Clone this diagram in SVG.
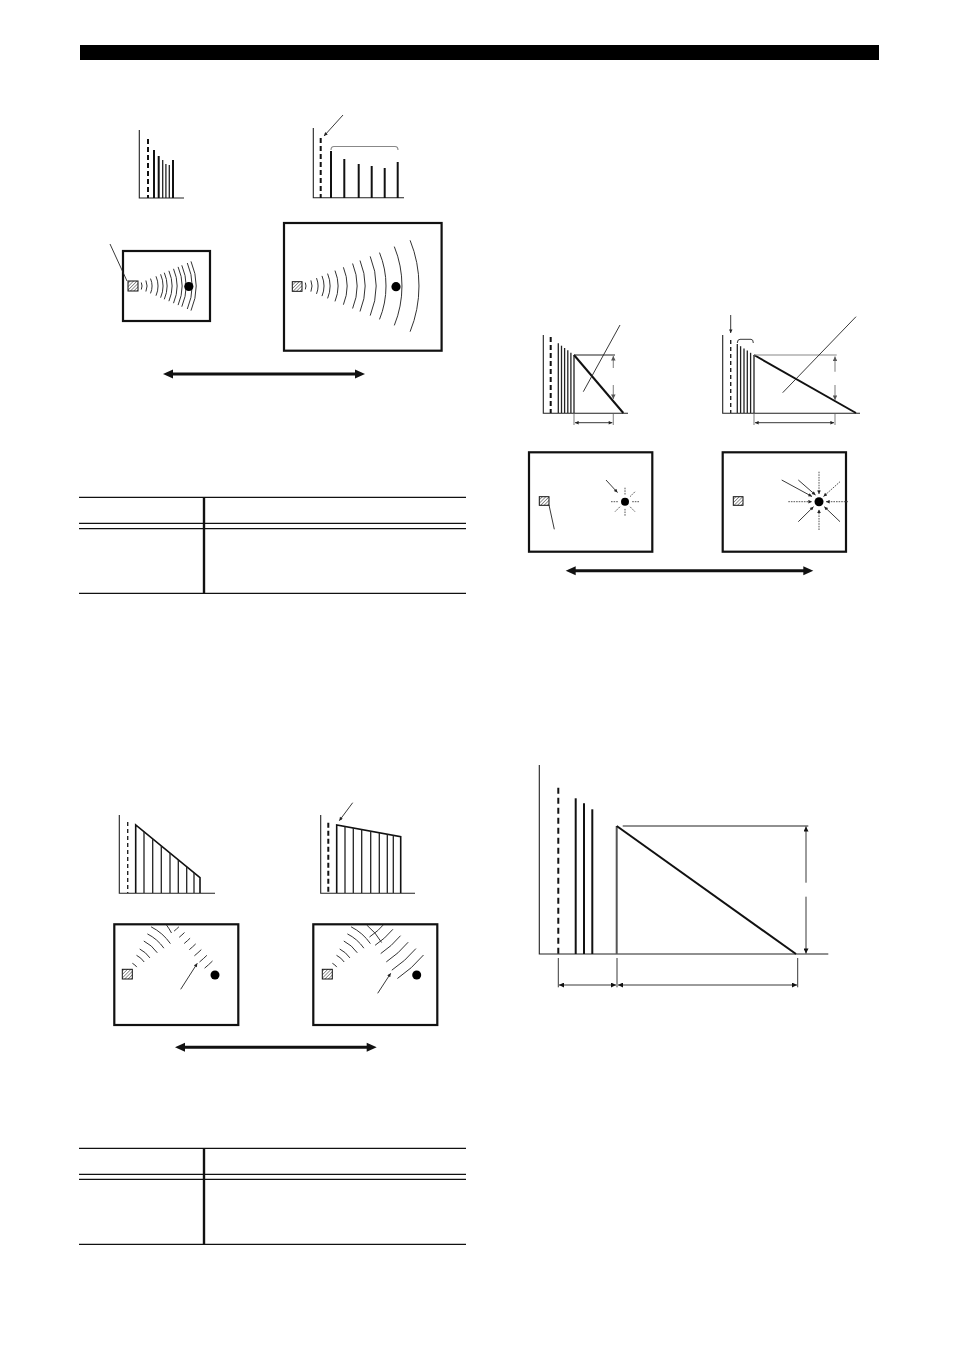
<svg xmlns="http://www.w3.org/2000/svg" width="954" height="1348" viewBox="0 0 954 1348">
<defs>
<style>
.ax{fill:none;stroke:#222;stroke-width:1.1}
.bar{stroke:#111;stroke-width:2}
.tbar{stroke:#222;stroke-width:1.3}
.dash{stroke:#111;stroke-width:2;stroke-dasharray:5 3}
.dashT{stroke:#222;stroke-width:1.4;stroke-dasharray:4 3}
.box{fill:none;stroke:#111;stroke-width:2.2}
.wave{fill:none;stroke:#333;stroke-width:1}
.thin{fill:none;stroke:#222;stroke-width:0.9}
.gray{fill:none;stroke:#888;stroke-width:1.1}
.ray{stroke:#555;stroke-width:1;stroke-dasharray:1.6 1}
.spk{fill:url(#hatch);stroke:#111;stroke-width:1}
.tbl{stroke:#111;stroke-width:1.3}
.tblv{stroke:#111;stroke-width:2.4}
.big{stroke:#111;stroke-width:3}
.head{fill:#111}
</style>
<pattern id="hatch" patternUnits="userSpaceOnUse" width="2.4" height="2.4" patternTransform="rotate(45)">
<rect width="2.4" height="2.4" fill="#fff"/>
<line x1="0" y1="0" x2="0" y2="2.4" stroke="#333" stroke-width="1"/>
</pattern>
<marker id="ah" viewBox="0 0 10 10" refX="10" refY="5" markerWidth="7" markerHeight="5" orient="auto-start-reverse" markerUnits="userSpaceOnUse">
<path d="M0,0 L10,5 L0,10 z" fill="#111"/>
</marker>
<marker id="as" viewBox="0 0 10 10" refX="10" refY="5" markerWidth="5" markerHeight="3.6" orient="auto-start-reverse" markerUnits="userSpaceOnUse">
<path d="M0,0 L10,5 L0,10 z" fill="#222"/>
</marker>
<marker id="ag" viewBox="0 0 10 10" refX="10" refY="5" markerWidth="6" markerHeight="4.5" orient="auto-start-reverse" markerUnits="userSpaceOnUse">
<path d="M0,0 L10,5 L0,10 z" fill="#555"/>
</marker>
<clipPath id="cBL"><rect x="115" y="925" width="122.5" height="99"/></clipPath>
<clipPath id="cBR"><rect x="314" y="925" width="122.5" height="99"/></clipPath>
</defs>

<rect id="topbar" x="80" y="45" width="799" height="15" fill="#000"/>

<!-- Top-left: chart 1 -->
<g id="chartA1">
<path class="ax" d="M139.3,130 V198 H184"/>
<line class="dash" x1="148" y1="139" x2="148" y2="198"/>
<line class="bar" x1="154" y1="150" x2="154" y2="198"/>
<line class="bar" x1="158.7" y1="156" x2="158.7" y2="198"/>
<line class="tbar" x1="162.7" y1="160" x2="162.7" y2="198"/>
<line class="tbar" x1="165.9" y1="164" x2="165.9" y2="198"/>
<line class="tbar" x1="169.3" y1="165" x2="169.3" y2="198"/>
<line class="bar" x1="173" y1="160" x2="173" y2="198"/>
</g>
<g id="chartA2">
<path class="ax" d="M313.3,128 V197.7 H404"/>
<line class="dash" x1="320.7" y1="138" x2="320.7" y2="198"/>
<path class="gray" d="M331,150 Q331,146.5 334,146.5 H395 Q398,146.5 398,150"/>
<line class="bar" x1="331" y1="151" x2="331" y2="198"/>
<line class="bar" x1="344.3" y1="159" x2="344.3" y2="198"/>
<line class="bar" x1="358.7" y1="164" x2="358.7" y2="198"/>
<line class="bar" x1="371.7" y1="166" x2="371.7" y2="198"/>
<line class="bar" x1="384.7" y1="168" x2="384.7" y2="198"/>
<line class="bar" x1="397.7" y1="162" x2="397.7" y2="198"/>
<line class="thin" x1="343" y1="115" x2="324" y2="136" marker-end="url(#as)"/>
</g>
<g id="roomA1">
<rect class="box" x="123" y="251" width="87" height="70"/>
<line class="thin" x1="110" y1="244" x2="127" y2="281"/>
<rect class="spk" x="128" y="281" width="10" height="10"/>
<g class="wave">
<path d="M141.3,282.5 A9,9 0 0 1 141.3,289.5"/>
<path d="M145.9,280.5 A14,14 0 0 1 145.9,291.5"/>
<path d="M150.5,278.6 A19,19 0 0 1 150.5,293.4"/>
<path d="M156,276.3 A25,25 0 0 1 156,295.7"/>
<path d="M160.6,274.3 A30,30 0 0 1 160.6,297.7"/>
<path d="M164.3,272.7 A34,34 0 0 1 164.3,299.3"/>
<path d="M168.9,270.8 A39,39 0 0 1 168.9,301.2"/>
<path d="M173.5,268.8 A44,44 0 0 1 173.5,303.2"/>
<path d="M178.1,266.9 A49,49 0 0 1 178.1,305.1"/>
<path d="M181.8,265.3 A53,53 0 0 1 181.8,306.7"/>
<path d="M187.3,263 A59,59 0 0 1 187.3,309"/>
<path d="M191,261.4 A63,63 0 0 1 191,310.6"/>
</g>
<circle cx="188.8" cy="286.5" r="4.6" fill="#000"/>
</g>
<g id="roomA2">
<rect class="box" x="284" y="223" width="157.6" height="127.7"/>
<rect class="spk" x="292.3" y="281.7" width="9.7" height="9.6"/>
<g class="wave">
<path d="M305.3,282.6 A9,9 0 0 1 305.3,289.4"/>
<path d="M310.9,280.4 A15,15 0 0 1 310.9,291.6"/>
<path d="M316.5,278.1 A21,21 0 0 1 316.5,293.9"/>
<path d="M322,275.9 A27,27 0 0 1 322,296.1"/>
<path d="M327.6,273.6 A33,33 0 0 1 327.6,298.4"/>
<path d="M335,270.6 A41,41 0 0 1 335,301.4"/>
<path d="M343.4,267.3 A50,50 0 0 1 343.4,304.7"/>
<path d="M352.6,263.5 A60,60 0 0 1 352.6,308.5"/>
<path d="M360,260.5 A68,68 0 0 1 360,311.5"/>
<path d="M370.2,256.4 A79,79 0 0 1 370.2,315.6"/>
<path d="M379.5,252.6 A89,89 0 0 1 379.5,319.4"/>
<path d="M394.3,246.6 A105,105 0 0 1 394.3,325.4"/>
<path d="M410.1,240.3 A122,122 0 0 1 410.1,331.7"/>
</g>
<circle cx="396" cy="286.7" r="4.6" fill="#000"/>
</g>
<g id="arrowA">
<line class="big" x1="170" y1="374" x2="358" y2="374"/>
<path class="head" d="M163,374 L173,369.5 L173,378.5 z"/>
<path class="head" d="M365,374 L355,369.5 L355,378.5 z"/>
</g>

<!-- Table 1 -->
<g id="table1">
<line class="tbl" x1="79" y1="497.3" x2="466" y2="497.3"/>
<line class="tbl" x1="79" y1="523.3" x2="466" y2="523.3"/>
<line class="tbl" x1="79" y1="528.7" x2="466" y2="528.7"/>
<line class="tbl" x1="79" y1="593.3" x2="466" y2="593.3"/>
<line class="tblv" x1="204" y1="497.3" x2="204" y2="593.3"/>
</g>

<!-- Top-right: charts -->
<g id="chartB1">
<path class="ax" d="M543.3,335 V413.3 H628"/>
<line class="dash" x1="550.7" y1="337" x2="550.7" y2="413"/>
<line class="tbar" x1="558.3" y1="343.3" x2="558.3" y2="413"/>
<line class="tbar" x1="561.5" y1="345.7" x2="561.5" y2="413"/>
<line class="tbar" x1="564.6" y1="348" x2="564.6" y2="413"/>
<line class="tbar" x1="567.8" y1="350.3" x2="567.8" y2="413"/>
<line class="tbar" x1="570.9" y1="352.7" x2="570.9" y2="413"/>
<line class="tbar" x1="574" y1="355" x2="574" y2="413"/>
<line stroke="#111" stroke-width="2" x1="574" y1="355" x2="623.3" y2="413"/>
<line class="ax" x1="574" y1="355" x2="615" y2="355"/>
<line class="gray" x1="613.3" y1="368" x2="613.3" y2="356" marker-end="url(#ag)"/>
<line class="gray" x1="613.3" y1="385" x2="613.3" y2="399" marker-end="url(#ag)"/>
<line class="gray" x1="574" y1="414" x2="574" y2="425"/>
<line class="gray" x1="613.3" y1="414" x2="613.3" y2="425"/>
<line class="thin" x1="575" y1="422.7" x2="612.3" y2="422.7" marker-start="url(#as)" marker-end="url(#as)"/>
<line class="thin" x1="620" y1="325" x2="583.3" y2="391.7"/>
</g>
<g id="chartB2">
<path class="ax" d="M722.7,335 V413.3 H860"/>
<line class="dashT" x1="730.7" y1="340" x2="730.7" y2="413"/>
<line class="thin" x1="730.7" y1="315" x2="730.7" y2="333" marker-end="url(#as)"/>
<path class="thin" d="M737.3,343 Q737.3,339.3 740,339.3 H751 Q753.3,339.3 753.3,343"/>
<line class="tbar" x1="737.3" y1="344" x2="737.3" y2="413"/>
<line class="tbar" x1="740.6" y1="346.2" x2="740.6" y2="413"/>
<line class="tbar" x1="744" y1="348.4" x2="744" y2="413"/>
<line class="tbar" x1="747.3" y1="350.6" x2="747.3" y2="413"/>
<line class="tbar" x1="750.6" y1="352.8" x2="750.6" y2="413"/>
<line class="tbar" x1="754" y1="355" x2="754" y2="413"/>
<line stroke="#111" stroke-width="2" x1="754" y1="355" x2="856" y2="413"/>
<line class="gray" x1="754" y1="355" x2="836.7" y2="355"/>
<line class="gray" x1="835" y1="371.7" x2="835" y2="356.5" marker-end="url(#ag)"/>
<line class="gray" x1="835" y1="385" x2="835" y2="400" marker-end="url(#ag)"/>
<line class="gray" x1="754" y1="414" x2="754" y2="425"/>
<line class="gray" x1="835" y1="414" x2="835" y2="425"/>
<line class="thin" x1="755" y1="422.7" x2="834" y2="422.7" marker-start="url(#as)" marker-end="url(#as)"/>
<line class="thin" x1="856" y1="316.7" x2="782.7" y2="392.7"/>
</g>
<g id="roomB1">
<rect class="box" x="529" y="452.3" width="123.3" height="99.4"/>
<rect class="spk" x="539.3" y="496.7" width="9.7" height="8.6"/>
<line class="thin" x1="549" y1="505" x2="554.3" y2="529.3"/>
<circle cx="625" cy="501.7" r="4" fill="#000"/>
<line class="thin" x1="606" y1="480" x2="617.5" y2="492.5" marker-end="url(#as)"/>
<g class="ray">
<line x1="625" y1="487.7" x2="625" y2="494.7"/>
<line x1="634.9" y1="491.8" x2="630" y2="496.7"/>
<line x1="639" y1="501.7" x2="632" y2="501.7"/>
<line x1="634.9" y1="511.6" x2="630" y2="506.7"/>
<line x1="625" y1="515.7" x2="625" y2="508.7"/>
<line x1="615.1" y1="511.6" x2="620" y2="506.7"/>
<line x1="611" y1="501.7" x2="618" y2="501.7"/>
</g>
</g>
<g id="roomB2">
<rect class="box" x="722.7" y="452.3" width="123.3" height="99.4"/>
<rect class="spk" x="733.3" y="496.7" width="9.7" height="8.6"/>
<circle cx="819" cy="501.7" r="4.5" fill="#000"/>
<g>
<line class="thin" x1="781.7" y1="480" x2="812" y2="496.5" marker-end="url(#as)"/>
<line class="thin" x1="798.3" y1="480" x2="815.5" y2="495" marker-end="url(#as)"/>
<line class="thin" x1="798.3" y1="521.7" x2="813.5" y2="506.7" marker-end="url(#as)"/>
<line class="thin" x1="840" y1="521.7" x2="824.3" y2="506.7" marker-end="url(#as)"/>
<line class="ray" x1="840" y1="481.7" x2="823.5" y2="496.5" marker-end="url(#as)"/>
<line class="ray" x1="819" y1="471.7" x2="819" y2="494" marker-end="url(#as)"/>
<line class="ray" x1="788.3" y1="501.7" x2="812" y2="501.7" marker-end="url(#as)"/>
<line class="ray" x1="848" y1="501.7" x2="826" y2="501.7" marker-end="url(#as)"/>
<line class="ray" x1="819" y1="530" x2="819" y2="509.5" marker-end="url(#as)"/>
</g>
</g>
<g id="arrowB">
<line class="big" x1="572" y1="570.7" x2="807" y2="570.7"/>
<path class="head" d="M565.7,570.7 L575.7,566.2 L575.7,575.2 z"/>
<path class="head" d="M813.3,570.7 L803.3,566.2 L803.3,575.2 z"/>
</g>

<!-- Bottom-left charts -->
<g id="chartC1">
<path class="ax" d="M119.3,815 V893.3 H215"/>
<line class="dashT" x1="127.7" y1="822" x2="127.7" y2="893"/>
<path fill="none" stroke="#111" stroke-width="1.6" d="M135.7,893 V825 L200,877.7 V893"/>
<g class="tbar">
<line x1="144" y1="831.8" x2="144" y2="893"/>
<line x1="152.7" y1="838.9" x2="152.7" y2="893"/>
<line x1="161.3" y1="846" x2="161.3" y2="893"/>
<line x1="170" y1="853.1" x2="170" y2="893"/>
<line x1="178.3" y1="859.9" x2="178.3" y2="893"/>
<line x1="186.7" y1="866.8" x2="186.7" y2="893"/>
<line x1="194" y1="872.8" x2="194" y2="893"/>
</g>
</g>
<g id="chartC2">
<path class="ax" d="M320.7,815 V893.3 H415"/>
<line class="dash" x1="328.3" y1="822.7" x2="328.3" y2="893"/>
<path fill="none" stroke="#111" stroke-width="1.6" d="M336.7,893 V825 L400.7,836.7 V893"/>
<g class="tbar">
<line x1="345" y1="826.5" x2="345" y2="893"/>
<line x1="353.3" y1="828" x2="353.3" y2="893"/>
<line x1="361.7" y1="829.6" x2="361.7" y2="893"/>
<line x1="370.7" y1="831.2" x2="370.7" y2="893"/>
<line x1="379.3" y1="832.8" x2="379.3" y2="893"/>
<line x1="387.3" y1="834.2" x2="387.3" y2="893"/>
<line x1="393.3" y1="835.3" x2="393.3" y2="893"/>
</g>
<line class="thin" x1="352.7" y1="802.7" x2="339.3" y2="820.7" marker-end="url(#as)"/>
</g>
<g id="roomC1">
<rect class="box" x="114.3" y="924.3" width="124" height="100.7"/>
<rect class="spk" x="122.3" y="969.3" width="10" height="9.7"/>
<g class="wave" clip-path="url(#cBL)">
<path d="M132.4,963.3 A12,12 0 0 1 136.8,967.1"/>
<path d="M136.5,955.3 A21,21 0 0 1 144.2,962"/>
<path d="M139.7,949 A28,28 0 0 1 149.9,957.9"/>
<path d="M143.8,941 A37,37 0 0 1 157.3,952.8"/>
<path d="M147.4,933.9 A45,45 0 0 1 163.9,948.2"/>
<path d="M151.1,926.8 A53,53 0 0 1 170.4,943.6"/>
<path d="M166.5,925 A62,62 0 0 1 171.5,933"/>
<path d="M174.1,931.1 A74,74 0 0 0 178.9,926.8"/>
<path d="M179.2,937.3 A82,82 0 0 0 184.5,932.5"/>
<path d="M184.2,943.5 A90,90 0 0 0 190.1,938.2"/>
<path d="M189.3,949.7 A98,98 0 0 0 195.7,943.9"/>
<path d="M194.4,955.8 A106,106 0 0 0 201.3,949.6"/>
<path d="M199.5,962 A114,114 0 0 0 206.9,955.3"/>
<path d="M204.6,968.2 A122,122 0 0 0 212.5,961"/>
</g>
<circle cx="215" cy="975" r="4.5" fill="#000"/>
<line class="thin" x1="180.7" y1="989.3" x2="197.3" y2="963.3" marker-end="url(#as)"/>
</g>
<g id="roomC2">
<rect class="box" x="313.3" y="924.3" width="124" height="100.7"/>
<rect class="spk" x="322.3" y="969.3" width="10" height="9.7"/>
<g class="wave" clip-path="url(#cBR)">
<path d="M332.4,963.3 A12,12 0 0 1 336.8,967.1"/>
<path d="M336.5,955.3 A21,21 0 0 1 344.2,962"/>
<path d="M339.7,949 A28,28 0 0 1 349.9,957.9"/>
<path d="M343.8,941 A37,37 0 0 1 357.3,952.8"/>
<path d="M347.4,933.9 A45,45 0 0 1 363.9,948.2"/>
<path d="M351.1,926.8 A53,53 0 0 1 370.4,943.6"/>
<path d="M366.7,925 A63,63 0 0 1 381.6,942.5"/>
<path d="M369.5,937 A76,76 0 0 0 385.2,922.9"/>
<path d="M375.1,945.3 A86,86 0 0 0 392.9,929.3"/>
<path d="M380.7,953.6 A96,96 0 0 0 400.5,935.7"/>
<path d="M386.3,961.9 A106,106 0 0 0 408.2,942.2"/>
<path d="M391.8,970.2 A116,116 0 0 0 415.9,948.6"/>
<path d="M397.4,978.5 A126,126 0 0 0 423.5,955"/>
</g>
<circle cx="416.7" cy="975" r="4.5" fill="#000"/>
<line class="thin" x1="377.7" y1="993.3" x2="390.7" y2="973.3" marker-end="url(#as)"/>
</g>
<g id="arrowC">
<line class="big" x1="181" y1="1047.3" x2="370" y2="1047.3"/>
<path class="head" d="M175,1047.3 L185,1042.8 L185,1051.8 z"/>
<path class="head" d="M376.7,1047.3 L366.7,1042.8 L366.7,1051.8 z"/>
</g>

<!-- Bottom-right chart -->
<g id="chartD">
<path class="ax" d="M539.3,765 V954 H828.3"/>
<line class="dash" x1="558.3" y1="787.7" x2="558.3" y2="954" style="stroke-dasharray:6 4"/>
<line class="bar" x1="575.7" y1="798.3" x2="575.7" y2="954"/>
<line class="bar" x1="584" y1="803.3" x2="584" y2="954"/>
<line class="bar" x1="592.3" y1="809.3" x2="592.3" y2="954"/>
<line stroke="#555" stroke-width="2" x1="616.7" y1="826" x2="616.7" y2="954"/>
<line stroke="#111" stroke-width="2" x1="616.7" y1="826" x2="796" y2="954"/>
<line class="ax" x1="622.7" y1="826" x2="808.3" y2="826"/>
<line class="thin" x1="806" y1="882.7" x2="806" y2="826.5" marker-end="url(#ah)"/>
<line class="thin" x1="806" y1="896.7" x2="806" y2="953.5" marker-end="url(#ah)"/>
<line class="thin" x1="558.3" y1="958" x2="558.3" y2="987.3"/>
<line class="thin" x1="617" y1="958" x2="617" y2="987.3"/>
<line class="thin" x1="797.7" y1="958" x2="797.7" y2="987.3"/>
<line class="thin" x1="559" y1="985" x2="616" y2="985" marker-start="url(#ah)" marker-end="url(#ah)"/>
<line class="thin" x1="618" y1="985" x2="797" y2="985" marker-start="url(#ah)" marker-end="url(#ah)"/>
</g>

<!-- Table 2 -->
<g id="table2">
<line class="tbl" x1="79" y1="1148.3" x2="466" y2="1148.3"/>
<line class="tbl" x1="79" y1="1174.3" x2="466" y2="1174.3"/>
<line class="tbl" x1="79" y1="1179.3" x2="466" y2="1179.3"/>
<line class="tbl" x1="79" y1="1244.3" x2="466" y2="1244.3"/>
<line class="tblv" x1="204" y1="1148.3" x2="204" y2="1244.3"/>
</g>
</svg>
